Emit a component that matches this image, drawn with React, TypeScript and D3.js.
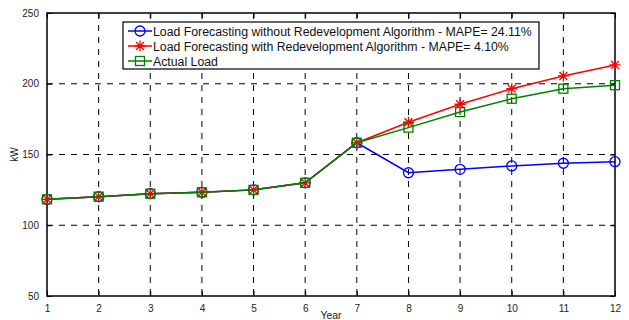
import React, { useRef, useEffect } from 'react';
import * as d3 from 'd3';

const years = [1, 2, 3, 4, 5, 6, 7, 8, 9, 10, 11, 12];
const withoutRedev = [118.3, 120.2, 122.3, 123.3, 125, 130, 158.3, 137.1, 139.5, 141.9, 143.8, 144.9];
const withRedev = [118.3, 120.2, 122.3, 123.3, 125, 130, 158.3, 172.8, 185.5, 196.5, 205.5, 213.3];
const actualLoad = [118.3, 120.2, 122.3, 123.3, 125, 130, 158.3, 169, 180, 189.4, 196.5, 199];
const yTicks = [50, 100, 150, 200, 250];
const legendLabels = [
  'Load Forecasting without Redevelopment Algorithm - MAPE= 24.11%',
  'Load Forecasting with Redevelopment Algorithm - MAPE= 4.10%',
  'Actual Load',
];

const W = 629;
const H = 320;

const App = () => {
  const svgRef = useRef<SVGSVGElement>(null);

  useEffect(() => {
    const svg = d3.select(svgRef.current);
    svg.selectAll('*').remove();

    const margin = { top: 13, right: 14, bottom: 24, left: 47 };
    const innerWidth = W - margin.left - margin.right;
    const innerHeight = H - margin.top - margin.bottom;
    const font = 'Liberation Sans, Arial, sans-serif';

    svg.append('rect').attr('width', W).attr('height', H).attr('fill', '#fff');

    const chart = svg.append('g').attr('transform', `translate(${margin.left},${margin.top})`);

    const x = d3.scaleLinear().domain([1, 12]).range([0, innerWidth]);
    const y = d3.scaleLinear().domain([50, 250]).range([innerHeight, 0]);

    // grid
    chart
      .selectAll('.vgrid')
      .data(years.slice(1, -1))
      .enter()
      .append('line')
      .attr('x1', d => x(d))
      .attr('x2', d => x(d))
      .attr('y1', 0)
      .attr('y2', innerHeight)
      .attr('stroke', '#000')
      .attr('stroke-width', 1)
      .attr('stroke-dasharray', '6,6');

    chart
      .selectAll('.hgrid')
      .data(yTicks.slice(1, -1))
      .enter()
      .append('line')
      .attr('x1', 0)
      .attr('x2', innerWidth)
      .attr('y1', d => y(d))
      .attr('y2', d => y(d))
      .attr('stroke', '#000')
      .attr('stroke-width', 1)
      .attr('stroke-dasharray', '6,6');

    // axes (ticks pointing inward, box style)
    const axisStyle = (g: any) => {
      g.select('.domain').remove();
      g.selectAll('text').attr('font-family', font).attr('font-size', 10).attr('fill', '#222');
      g.selectAll('line').attr('stroke', '#000');
    };

    chart
      .append('g')
      .attr('transform', `translate(0,${innerHeight})`)
      .call(d3.axisBottom(x).tickValues(years).tickFormat(d3.format('d')).tickSizeInner(-5).tickPadding(9))
      .call(axisStyle);
    chart
      .append('g')
      .call(d3.axisTop(x).tickValues(years).tickFormat(() => '').tickSizeInner(-5))
      .call(axisStyle);
    chart
      .append('g')
      .call(d3.axisLeft(y).tickValues(yTicks).tickFormat(d3.format('d')).tickSizeInner(-5).tickPadding(8))
      .call(axisStyle);
    chart
      .append('g')
      .attr('transform', `translate(${innerWidth},0)`)
      .call(d3.axisRight(y).tickValues(yTicks).tickFormat(() => '').tickSizeInner(-5))
      .call(axisStyle);

    chart
      .append('rect')
      .attr('width', innerWidth)
      .attr('height', innerHeight)
      .attr('fill', 'none')
      .attr('stroke', '#000')
      .attr('stroke-width', 1.5);

    // series
    const line = d3
      .line<number>()
      .x((_, i) => x(years[i]))
      .y(d => y(d));

    const drawCircle = (g: any, cx: number, cy: number, color: string) => {
      g.append('circle').attr('cx', cx).attr('cy', cy).attr('r', 5).attr('fill', 'none').attr('stroke', color).attr('stroke-width', 1.3);
    };
    const drawStar = (g: any, cx: number, cy: number, color: string) => {
      const s = 5.5;
      const d = s * 0.72;
      const path = `M${cx - s},${cy}L${cx + s},${cy}M${cx},${cy - s}L${cx},${cy + s}M${cx - d},${cy - d}L${cx + d},${cy + d}M${cx - d},${cy + d}L${cx + d},${cy - d}`;
      g.append('path').attr('d', path).attr('stroke', color).attr('stroke-width', 1.3).attr('fill', 'none');
    };
    const drawSquare = (g: any, cx: number, cy: number, color: string) => {
      g.append('rect').attr('x', cx - 4.5).attr('y', cy - 4.5).attr('width', 9).attr('height', 9).attr('fill', 'none').attr('stroke', color).attr('stroke-width', 1.3);
    };

    const series = [
      { values: withoutRedev, color: '#0000ff', marker: drawCircle },
      { values: withRedev, color: '#ff0000', marker: drawStar },
      { values: actualLoad, color: '#008000', marker: drawSquare },
    ];

    series.forEach(s => {
      const g = chart.append('g');
      g.append('path').datum(s.values).attr('d', line).attr('fill', 'none').attr('stroke', s.color).attr('stroke-width', 1.5);
      s.values.forEach((v, i) => s.marker(g, x(years[i]), y(v), s.color));
    });

    // legend
    const legend = svg.append('g').attr('transform', 'translate(123,22)');
    legend
      .append('rect')
      .attr('width', 416)
      .attr('height', 47)
      .attr('fill', '#fff')
      .attr('stroke', '#000')
      .attr('stroke-width', 1.2);

    series.forEach((s, i) => {
      const row = legend.append('g').attr('transform', `translate(0,${9 + i * 15})`);
      row.append('line').attr('x1', 5).attr('x2', 29).attr('y1', 0).attr('y2', 0).attr('stroke', s.color).attr('stroke-width', 1.5);
      s.marker(row, 17, 0, s.color);
      row
        .append('text')
        .attr('x', 30)
        .attr('y', 4.5)
        .attr('font-family', font)
        .attr('font-size', 12.3)
        .attr('fill', '#111')
        .text(legendLabels[i]);
    });

    // axis labels
    svg
      .append('text')
      .attr('transform', `translate(18,${margin.top + innerHeight / 2}) rotate(-90)`)
      .attr('text-anchor', 'middle')
      .attr('font-family', font)
      .attr('font-size', 10)
      .attr('fill', '#222')
      .text('kW');

    svg
      .append('text')
      .attr('x', margin.left + innerWidth / 2)
      .attr('y', H - 1)
      .attr('text-anchor', 'middle')
      .attr('font-family', font)
      .attr('font-size', 10.5)
      .attr('fill', '#222')
      .text('Year');
  }, []);

  return <svg ref={svgRef} width={W} height={H} style={{ position: 'absolute', left: 0, top: 0 }}></svg>;
};

export default App;
